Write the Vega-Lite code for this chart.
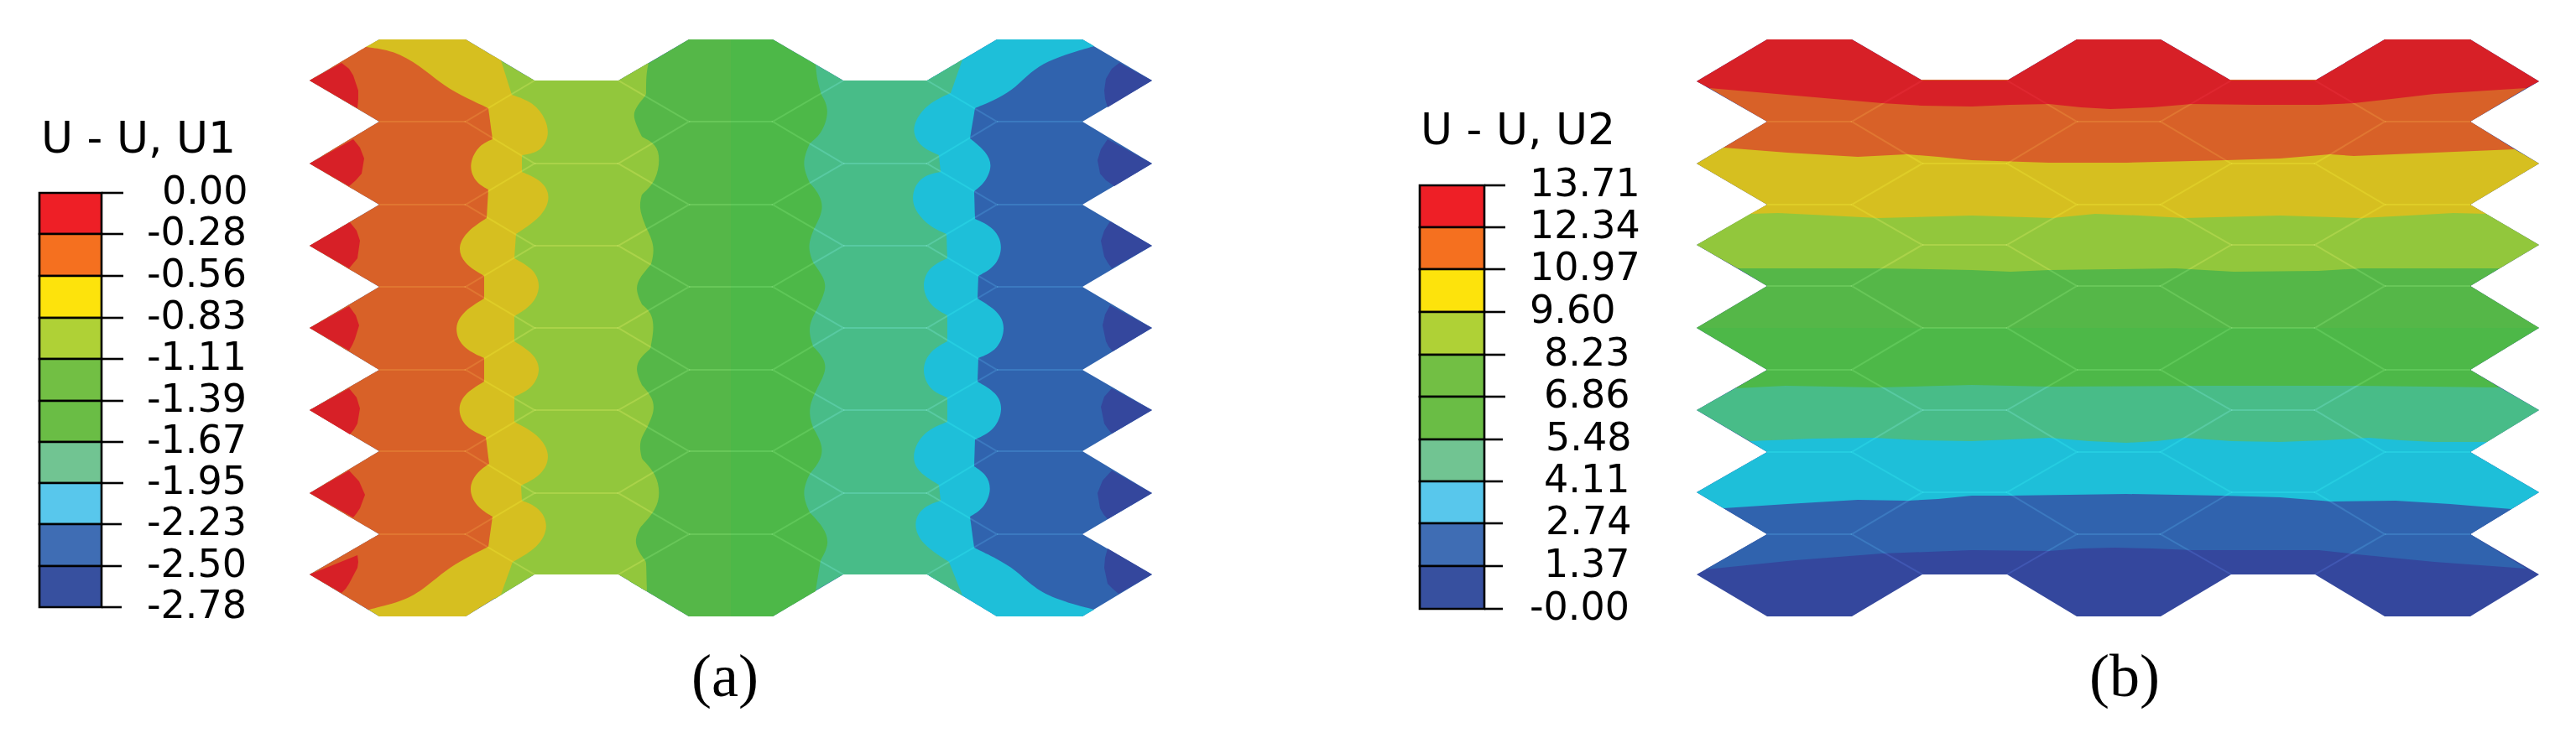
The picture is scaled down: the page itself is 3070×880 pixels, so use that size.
{"$schema":"https://vega.github.io/schema/vega-lite/v6.json","width":3070,"height":880,"autosize":{"type":"fit","contains":"padding"},"padding":0,"background":"white","config":{"view":{"stroke":null}},
"datasets":{
"outlines":[
{"id":"a0","b":9,"x":369,"y":96},{"id":"a0","b":9,"x":452,"y":47},{"id":"a0","b":9,"x":555,"y":47},{"id":"a0","b":9,"x":637,"y":96},{"id":"a0","b":9,"x":737,"y":96},{"id":"a0","b":9,"x":821,"y":47},{"id":"a0","b":9,"x":921,"y":47},{"id":"a0","b":9,"x":1005,"y":96},{"id":"a0","b":9,"x":1105,"y":96},{"id":"a0","b":9,"x":1188,"y":47},{"id":"a0","b":9,"x":1290,"y":47},{"id":"a0","b":9,"x":1373,"y":96},{"id":"a0","b":9,"x":1290,"y":145},{"id":"a0","b":9,"x":1373,"y":195},{"id":"a0","b":9,"x":1290,"y":244},{"id":"a0","b":9,"x":1373,"y":293},{"id":"a0","b":9,"x":1290,"y":342},{"id":"a0","b":9,"x":1373,"y":391},{"id":"a0","b":9,"x":1290,"y":441},{"id":"a0","b":9,"x":1373,"y":489},{"id":"a0","b":9,"x":1290,"y":538},{"id":"a0","b":9,"x":1373,"y":588},{"id":"a0","b":9,"x":1290,"y":637},{"id":"a0","b":9,"x":1373,"y":685},{"id":"a0","b":9,"x":1290,"y":735},{"id":"a0","b":9,"x":1188,"y":735},{"id":"a0","b":9,"x":1105,"y":685},{"id":"a0","b":9,"x":1005,"y":685},{"id":"a0","b":9,"x":921,"y":735},{"id":"a0","b":9,"x":821,"y":735},{"id":"a0","b":9,"x":737,"y":685},{"id":"a0","b":9,"x":637,"y":685},{"id":"a0","b":9,"x":555,"y":735},{"id":"a0","b":9,"x":452,"y":735},{"id":"a0","b":9,"x":369,"y":685},{"id":"a0","b":9,"x":452,"y":637},{"id":"a0","b":9,"x":369,"y":588},{"id":"a0","b":9,"x":452,"y":538},{"id":"a0","b":9,"x":369,"y":489},{"id":"a0","b":9,"x":452,"y":441},{"id":"a0","b":9,"x":369,"y":391},{"id":"a0","b":9,"x":452,"y":342},{"id":"a0","b":9,"x":369,"y":293},{"id":"a0","b":9,"x":452,"y":244},{"id":"a0","b":9,"x":369,"y":195},{"id":"a0","b":9,"x":452,"y":145},
{"id":"ad1","b":10,"x":1373,"y":96},{"id":"ad1","b":10,"x":1334,"y":75},{"id":"ad1","b":10,"x":1325,"y":82},{"id":"ad1","b":10,"x":1318,"y":94},{"id":"ad1","b":10,"x":1316,"y":108},{"id":"ad1","b":10,"x":1317,"y":118},{"id":"ad1","b":10,"x":1320,"y":128},
{"id":"ad2","b":10,"x":1373,"y":195},{"id":"ad2","b":10,"x":1320,"y":166},{"id":"ad2","b":10,"x":1312,"y":178},{"id":"ad2","b":10,"x":1308,"y":191},{"id":"ad2","b":10,"x":1311,"y":207},{"id":"ad2","b":10,"x":1318,"y":215},{"id":"ad2","b":10,"x":1328,"y":222},
{"id":"ad3","b":10,"x":1373,"y":293},{"id":"ad3","b":10,"x":1323,"y":264},{"id":"ad3","b":10,"x":1316,"y":275},{"id":"ad3","b":10,"x":1312,"y":287},{"id":"ad3","b":10,"x":1316,"y":306},{"id":"ad3","b":10,"x":1320,"y":313},{"id":"ad3","b":10,"x":1325,"y":320},
{"id":"ad4","b":10,"x":1373,"y":391},{"id":"ad4","b":10,"x":1323,"y":364},{"id":"ad4","b":10,"x":1317,"y":375},{"id":"ad4","b":10,"x":1314,"y":388},{"id":"ad4","b":10,"x":1318,"y":407},{"id":"ad4","b":10,"x":1321,"y":413},{"id":"ad4","b":10,"x":1326,"y":419},
{"id":"ad5","b":10,"x":1373,"y":489},{"id":"ad5","b":10,"x":1325,"y":463},{"id":"ad5","b":10,"x":1316,"y":473},{"id":"ad5","b":10,"x":1312,"y":485},{"id":"ad5","b":10,"x":1316,"y":505},{"id":"ad5","b":10,"x":1320,"y":511},{"id":"ad5","b":10,"x":1325,"y":517},
{"id":"ad6","b":10,"x":1373,"y":588},{"id":"ad6","b":10,"x":1325,"y":561},{"id":"ad6","b":10,"x":1314,"y":573},{"id":"ad6","b":10,"x":1308,"y":588},{"id":"ad6","b":10,"x":1311,"y":606},{"id":"ad6","b":10,"x":1315,"y":613},{"id":"ad6","b":10,"x":1320,"y":619},
{"id":"ad7","b":10,"x":1373,"y":685},{"id":"ad7","b":10,"x":1320,"y":654},{"id":"ad7","b":10,"x":1317,"y":665},{"id":"ad7","b":10,"x":1316,"y":677},{"id":"ad7","b":10,"x":1320,"y":696},{"id":"ad7","b":10,"x":1326,"y":702},{"id":"ad7","b":10,"x":1333,"y":708}
],
"contours":[
{"id":"a8","b":8,"x":1085,"y":96},{"id":"a8","b":8,"x":1085,"y":96},{"id":"a8","b":8,"x":1085,"y":96},{"id":"a8","b":8,"x":1105,"y":96},{"id":"a8","b":8,"x":1105,"y":96},{"id":"a8","b":8,"x":1105,"y":96},{"id":"a8","b":8,"x":1188,"y":47},{"id":"a8","b":8,"x":1188,"y":47},{"id":"a8","b":8,"x":1188,"y":47},{"id":"a8","b":8,"x":1290,"y":47},{"id":"a8","b":8,"x":1290,"y":47},{"id":"a8","b":8,"x":1290,"y":47},{"id":"a8","b":8,"x":1304,"y":55},{"id":"a8","b":8,"x":1304,"y":55},{"id":"a8","b":8,"x":1304,"y":55},{"id":"a8","b":8,"x":1269,"y":65},{"id":"a8","b":8,"x":1242,"y":76},{"id":"a8","b":8,"x":1224,"y":90},{"id":"a8","b":8,"x":1206,"y":108},{"id":"a8","b":8,"x":1184,"y":120},{"id":"a8","b":8,"x":1162,"y":129},{"id":"a8","b":8,"x":1162,"y":129},{"id":"a8","b":8,"x":1162,"y":129},{"id":"a8","b":8,"x":1156,"y":165},{"id":"a8","b":8,"x":1156,"y":165},{"id":"a8","b":8,"x":1156,"y":165},{"id":"a8","b":8,"x":1176,"y":181},{"id":"a8","b":8,"x":1183,"y":198},{"id":"a8","b":8,"x":1174,"y":218},{"id":"a8","b":8,"x":1161,"y":228},{"id":"a8","b":8,"x":1161,"y":228},{"id":"a8","b":8,"x":1161,"y":228},{"id":"a8","b":8,"x":1162,"y":261},{"id":"a8","b":8,"x":1162,"y":261},{"id":"a8","b":8,"x":1162,"y":261},{"id":"a8","b":8,"x":1186,"y":272},{"id":"a8","b":8,"x":1196,"y":294},{"id":"a8","b":8,"x":1187,"y":318},{"id":"a8","b":8,"x":1166,"y":329},{"id":"a8","b":8,"x":1166,"y":329},{"id":"a8","b":8,"x":1166,"y":329},{"id":"a8","b":8,"x":1165,"y":356},{"id":"a8","b":8,"x":1165,"y":356},{"id":"a8","b":8,"x":1165,"y":356},{"id":"a8","b":8,"x":1190,"y":371},{"id":"a8","b":8,"x":1199,"y":390},{"id":"a8","b":8,"x":1190,"y":417},{"id":"a8","b":8,"x":1166,"y":427},{"id":"a8","b":8,"x":1166,"y":427},{"id":"a8","b":8,"x":1166,"y":427},{"id":"a8","b":8,"x":1165,"y":455},{"id":"a8","b":8,"x":1165,"y":455},{"id":"a8","b":8,"x":1165,"y":455},{"id":"a8","b":8,"x":1188,"y":468},{"id":"a8","b":8,"x":1196,"y":487},{"id":"a8","b":8,"x":1186,"y":513},{"id":"a8","b":8,"x":1162,"y":524},{"id":"a8","b":8,"x":1162,"y":524},{"id":"a8","b":8,"x":1162,"y":524},{"id":"a8","b":8,"x":1161,"y":556},{"id":"a8","b":8,"x":1161,"y":556},{"id":"a8","b":8,"x":1161,"y":556},{"id":"a8","b":8,"x":1176,"y":566},{"id":"a8","b":8,"x":1182,"y":583},{"id":"a8","b":8,"x":1174,"y":605},{"id":"a8","b":8,"x":1156,"y":616},{"id":"a8","b":8,"x":1156,"y":616},{"id":"a8","b":8,"x":1156,"y":616},{"id":"a8","b":8,"x":1161,"y":653},{"id":"a8","b":8,"x":1161,"y":653},{"id":"a8","b":8,"x":1161,"y":653},{"id":"a8","b":8,"x":1188,"y":666},{"id":"a8","b":8,"x":1211,"y":680},{"id":"a8","b":8,"x":1229,"y":698},{"id":"a8","b":8,"x":1255,"y":714},{"id":"a8","b":8,"x":1304,"y":727},{"id":"a8","b":8,"x":1304,"y":727},{"id":"a8","b":8,"x":1304,"y":727},{"id":"a8","b":8,"x":1290,"y":735},{"id":"a8","b":8,"x":1290,"y":735},{"id":"a8","b":8,"x":1290,"y":735},{"id":"a8","b":8,"x":1188,"y":735},{"id":"a8","b":8,"x":1188,"y":735},{"id":"a8","b":8,"x":1188,"y":735},{"id":"a8","b":8,"x":1105,"y":685},{"id":"a8","b":8,"x":1105,"y":685},{"id":"a8","b":8,"x":1105,"y":685},{"id":"a8","b":8,"x":1085,"y":685},{"id":"a8","b":8,"x":1085,"y":685},{"id":"a8","b":8,"x":1085,"y":685},
{"id":"a7","b":7,"x":950,"y":64},{"id":"a7","b":7,"x":950,"y":64},{"id":"a7","b":7,"x":950,"y":64},{"id":"a7","b":7,"x":1005,"y":96},{"id":"a7","b":7,"x":1005,"y":96},{"id":"a7","b":7,"x":1005,"y":96},{"id":"a7","b":7,"x":1105,"y":96},{"id":"a7","b":7,"x":1105,"y":96},{"id":"a7","b":7,"x":1105,"y":96},{"id":"a7","b":7,"x":1147,"y":71},{"id":"a7","b":7,"x":1147,"y":71},{"id":"a7","b":7,"x":1147,"y":71},{"id":"a7","b":7,"x":1133,"y":111},{"id":"a7","b":7,"x":1133,"y":111},{"id":"a7","b":7,"x":1133,"y":111},{"id":"a7","b":7,"x":1106,"y":123},{"id":"a7","b":7,"x":1090,"y":144},{"id":"a7","b":7,"x":1088,"y":160},{"id":"a7","b":7,"x":1098,"y":176},{"id":"a7","b":7,"x":1119,"y":185},{"id":"a7","b":7,"x":1119,"y":185},{"id":"a7","b":7,"x":1119,"y":185},{"id":"a7","b":7,"x":1121,"y":205},{"id":"a7","b":7,"x":1121,"y":205},{"id":"a7","b":7,"x":1121,"y":205},{"id":"a7","b":7,"x":1098,"y":210},{"id":"a7","b":7,"x":1087,"y":228},{"id":"a7","b":7,"x":1088,"y":249},{"id":"a7","b":7,"x":1107,"y":270},{"id":"a7","b":7,"x":1128,"y":279},{"id":"a7","b":7,"x":1128,"y":279},{"id":"a7","b":7,"x":1128,"y":279},{"id":"a7","b":7,"x":1129,"y":308},{"id":"a7","b":7,"x":1129,"y":308},{"id":"a7","b":7,"x":1129,"y":308},{"id":"a7","b":7,"x":1107,"y":318},{"id":"a7","b":7,"x":1098,"y":340},{"id":"a7","b":7,"x":1107,"y":364},{"id":"a7","b":7,"x":1129,"y":376},{"id":"a7","b":7,"x":1129,"y":376},{"id":"a7","b":7,"x":1129,"y":376},{"id":"a7","b":7,"x":1129,"y":407},{"id":"a7","b":7,"x":1129,"y":407},{"id":"a7","b":7,"x":1129,"y":407},{"id":"a7","b":7,"x":1107,"y":419},{"id":"a7","b":7,"x":1098,"y":441},{"id":"a7","b":7,"x":1107,"y":465},{"id":"a7","b":7,"x":1129,"y":474},{"id":"a7","b":7,"x":1129,"y":474},{"id":"a7","b":7,"x":1129,"y":474},{"id":"a7","b":7,"x":1129,"y":503},{"id":"a7","b":7,"x":1129,"y":503},{"id":"a7","b":7,"x":1129,"y":503},{"id":"a7","b":7,"x":1103,"y":513},{"id":"a7","b":7,"x":1087,"y":537},{"id":"a7","b":7,"x":1090,"y":561},{"id":"a7","b":7,"x":1119,"y":578},{"id":"a7","b":7,"x":1119,"y":578},{"id":"a7","b":7,"x":1119,"y":578},{"id":"a7","b":7,"x":1121,"y":597},{"id":"a7","b":7,"x":1121,"y":597},{"id":"a7","b":7,"x":1121,"y":597},{"id":"a7","b":7,"x":1098,"y":605},{"id":"a7","b":7,"x":1088,"y":625},{"id":"a7","b":7,"x":1098,"y":649},{"id":"a7","b":7,"x":1131,"y":670},{"id":"a7","b":7,"x":1131,"y":670},{"id":"a7","b":7,"x":1131,"y":670},{"id":"a7","b":7,"x":1147,"y":710},{"id":"a7","b":7,"x":1147,"y":710},{"id":"a7","b":7,"x":1147,"y":710},{"id":"a7","b":7,"x":1105,"y":685},{"id":"a7","b":7,"x":1105,"y":685},{"id":"a7","b":7,"x":1105,"y":685},{"id":"a7","b":7,"x":1005,"y":685},{"id":"a7","b":7,"x":1005,"y":685},{"id":"a7","b":7,"x":1005,"y":685},{"id":"a7","b":7,"x":950,"y":717},{"id":"a7","b":7,"x":950,"y":717},{"id":"a7","b":7,"x":950,"y":717},
{"id":"a6","b":6,"x":860,"y":47},{"id":"a6","b":6,"x":860,"y":47},{"id":"a6","b":6,"x":860,"y":47},{"id":"a6","b":6,"x":921,"y":47},{"id":"a6","b":6,"x":921,"y":47},{"id":"a6","b":6,"x":921,"y":47},{"id":"a6","b":6,"x":972,"y":77},{"id":"a6","b":6,"x":972,"y":77},{"id":"a6","b":6,"x":972,"y":77},{"id":"a6","b":6,"x":974,"y":97},{"id":"a6","b":6,"x":979,"y":113},{"id":"a6","b":6,"x":979,"y":113},{"id":"a6","b":6,"x":989,"y":131},{"id":"a6","b":6,"x":980,"y":159},{"id":"a6","b":6,"x":965,"y":171},{"id":"a6","b":6,"x":965,"y":171},{"id":"a6","b":6,"x":955,"y":195},{"id":"a6","b":6,"x":965,"y":218},{"id":"a6","b":6,"x":965,"y":218},{"id":"a6","b":6,"x":977,"y":232},{"id":"a6","b":6,"x":982,"y":250},{"id":"a6","b":6,"x":970,"y":273},{"id":"a6","b":6,"x":970,"y":273},{"id":"a6","b":6,"x":962,"y":294},{"id":"a6","b":6,"x":969,"y":313},{"id":"a6","b":6,"x":969,"y":313},{"id":"a6","b":6,"x":982,"y":331},{"id":"a6","b":6,"x":985,"y":345},{"id":"a6","b":6,"x":974,"y":368},{"id":"a6","b":6,"x":974,"y":368},{"id":"a6","b":6,"x":962,"y":390},{"id":"a6","b":6,"x":969,"y":413},{"id":"a6","b":6,"x":969,"y":413},{"id":"a6","b":6,"x":982,"y":427},{"id":"a6","b":6,"x":985,"y":441},{"id":"a6","b":6,"x":976,"y":459},{"id":"a6","b":6,"x":976,"y":459},{"id":"a6","b":6,"x":962,"y":487},{"id":"a6","b":6,"x":969,"y":510},{"id":"a6","b":6,"x":969,"y":510},{"id":"a6","b":6,"x":982,"y":533},{"id":"a6","b":6,"x":977,"y":551},{"id":"a6","b":6,"x":965,"y":565},{"id":"a6","b":6,"x":965,"y":565},{"id":"a6","b":6,"x":955,"y":588},{"id":"a6","b":6,"x":965,"y":611},{"id":"a6","b":6,"x":965,"y":611},{"id":"a6","b":6,"x":982,"y":629},{"id":"a6","b":6,"x":989,"y":648},{"id":"a6","b":6,"x":978,"y":668},{"id":"a6","b":6,"x":978,"y":668},{"id":"a6","b":6,"x":972,"y":705},{"id":"a6","b":6,"x":972,"y":705},{"id":"a6","b":6,"x":972,"y":705},{"id":"a6","b":6,"x":921,"y":735},{"id":"a6","b":6,"x":921,"y":735},{"id":"a6","b":6,"x":921,"y":735},{"id":"a6","b":6,"x":860,"y":735},{"id":"a6","b":6,"x":860,"y":735},{"id":"a6","b":6,"x":860,"y":735},
{"id":"a5","b":5,"x":750,"y":89},{"id":"a5","b":5,"x":750,"y":89},{"id":"a5","b":5,"x":750,"y":89},{"id":"a5","b":5,"x":821,"y":47},{"id":"a5","b":5,"x":821,"y":47},{"id":"a5","b":5,"x":821,"y":47},{"id":"a5","b":5,"x":871,"y":47},{"id":"a5","b":5,"x":871,"y":47},{"id":"a5","b":5,"x":871,"y":47},{"id":"a5","b":5,"x":871,"y":735},{"id":"a5","b":5,"x":871,"y":735},{"id":"a5","b":5,"x":871,"y":735},{"id":"a5","b":5,"x":821,"y":735},{"id":"a5","b":5,"x":821,"y":735},{"id":"a5","b":5,"x":821,"y":735},{"id":"a5","b":5,"x":750,"y":693},{"id":"a5","b":5,"x":750,"y":693},{"id":"a5","b":5,"x":750,"y":693},
{"id":"a4","b":4,"x":590,"y":68},{"id":"a4","b":4,"x":590,"y":68},{"id":"a4","b":4,"x":590,"y":68},{"id":"a4","b":4,"x":637,"y":96},{"id":"a4","b":4,"x":637,"y":96},{"id":"a4","b":4,"x":637,"y":96},{"id":"a4","b":4,"x":737,"y":96},{"id":"a4","b":4,"x":737,"y":96},{"id":"a4","b":4,"x":737,"y":96},{"id":"a4","b":4,"x":773,"y":75},{"id":"a4","b":4,"x":773,"y":75},{"id":"a4","b":4,"x":773,"y":75},{"id":"a4","b":4,"x":770,"y":88},{"id":"a4","b":4,"x":770,"y":113},{"id":"a4","b":4,"x":770,"y":113},{"id":"a4","b":4,"x":757,"y":129},{"id":"a4","b":4,"x":754,"y":140},{"id":"a4","b":4,"x":765,"y":163},{"id":"a4","b":4,"x":765,"y":163},{"id":"a4","b":4,"x":782,"y":172},{"id":"a4","b":4,"x":787,"y":189},{"id":"a4","b":4,"x":782,"y":216},{"id":"a4","b":4,"x":765,"y":232},{"id":"a4","b":4,"x":765,"y":232},{"id":"a4","b":4,"x":761,"y":248},{"id":"a4","b":4,"x":770,"y":271},{"id":"a4","b":4,"x":770,"y":271},{"id":"a4","b":4,"x":781,"y":294},{"id":"a4","b":4,"x":776,"y":315},{"id":"a4","b":4,"x":776,"y":315},{"id":"a4","b":4,"x":762,"y":331},{"id":"a4","b":4,"x":757,"y":345},{"id":"a4","b":4,"x":765,"y":363},{"id":"a4","b":4,"x":765,"y":363},{"id":"a4","b":4,"x":776,"y":372},{"id":"a4","b":4,"x":780,"y":390},{"id":"a4","b":4,"x":775,"y":416},{"id":"a4","b":4,"x":775,"y":416},{"id":"a4","b":4,"x":762,"y":427},{"id":"a4","b":4,"x":757,"y":441},{"id":"a4","b":4,"x":765,"y":459},{"id":"a4","b":4,"x":765,"y":459},{"id":"a4","b":4,"x":777,"y":473},{"id":"a4","b":4,"x":781,"y":489},{"id":"a4","b":4,"x":770,"y":512},{"id":"a4","b":4,"x":770,"y":512},{"id":"a4","b":4,"x":761,"y":528},{"id":"a4","b":4,"x":765,"y":547},{"id":"a4","b":4,"x":765,"y":547},{"id":"a4","b":4,"x":782,"y":565},{"id":"a4","b":4,"x":787,"y":588},{"id":"a4","b":4,"x":782,"y":608},{"id":"a4","b":4,"x":763,"y":629},{"id":"a4","b":4,"x":763,"y":629},{"id":"a4","b":4,"x":754,"y":648},{"id":"a4","b":4,"x":770,"y":670},{"id":"a4","b":4,"x":770,"y":670},{"id":"a4","b":4,"x":771,"y":705},{"id":"a4","b":4,"x":771,"y":705},{"id":"a4","b":4,"x":771,"y":705},{"id":"a4","b":4,"x":737,"y":685},{"id":"a4","b":4,"x":737,"y":685},{"id":"a4","b":4,"x":737,"y":685},{"id":"a4","b":4,"x":637,"y":685},{"id":"a4","b":4,"x":637,"y":685},{"id":"a4","b":4,"x":637,"y":685},{"id":"a4","b":4,"x":590,"y":714},{"id":"a4","b":4,"x":590,"y":714},{"id":"a4","b":4,"x":590,"y":714},
{"id":"a3","b":3,"x":436,"y":56},{"id":"a3","b":3,"x":436,"y":56},{"id":"a3","b":3,"x":436,"y":56},{"id":"a3","b":3,"x":452,"y":47},{"id":"a3","b":3,"x":452,"y":47},{"id":"a3","b":3,"x":452,"y":47},{"id":"a3","b":3,"x":555,"y":47},{"id":"a3","b":3,"x":555,"y":47},{"id":"a3","b":3,"x":555,"y":47},{"id":"a3","b":3,"x":597,"y":72},{"id":"a3","b":3,"x":597,"y":72},{"id":"a3","b":3,"x":597,"y":72},{"id":"a3","b":3,"x":610,"y":113},{"id":"a3","b":3,"x":610,"y":113},{"id":"a3","b":3,"x":610,"y":113},{"id":"a3","b":3,"x":636,"y":122},{"id":"a3","b":3,"x":651,"y":142},{"id":"a3","b":3,"x":655,"y":163},{"id":"a3","b":3,"x":643,"y":182},{"id":"a3","b":3,"x":622,"y":185},{"id":"a3","b":3,"x":622,"y":185},{"id":"a3","b":3,"x":622,"y":185},{"id":"a3","b":3,"x":622,"y":205},{"id":"a3","b":3,"x":622,"y":205},{"id":"a3","b":3,"x":622,"y":205},{"id":"a3","b":3,"x":646,"y":215},{"id":"a3","b":3,"x":657,"y":234},{"id":"a3","b":3,"x":647,"y":258},{"id":"a3","b":3,"x":615,"y":279},{"id":"a3","b":3,"x":615,"y":279},{"id":"a3","b":3,"x":615,"y":279},{"id":"a3","b":3,"x":613,"y":308},{"id":"a3","b":3,"x":613,"y":308},{"id":"a3","b":3,"x":613,"y":308},{"id":"a3","b":3,"x":637,"y":321},{"id":"a3","b":3,"x":645,"y":342},{"id":"a3","b":3,"x":635,"y":364},{"id":"a3","b":3,"x":613,"y":377},{"id":"a3","b":3,"x":613,"y":377},{"id":"a3","b":3,"x":613,"y":377},{"id":"a3","b":3,"x":613,"y":407},{"id":"a3","b":3,"x":613,"y":407},{"id":"a3","b":3,"x":613,"y":407},{"id":"a3","b":3,"x":637,"y":422},{"id":"a3","b":3,"x":645,"y":441},{"id":"a3","b":3,"x":635,"y":463},{"id":"a3","b":3,"x":613,"y":473},{"id":"a3","b":3,"x":613,"y":473},{"id":"a3","b":3,"x":613,"y":473},{"id":"a3","b":3,"x":613,"y":503},{"id":"a3","b":3,"x":613,"y":503},{"id":"a3","b":3,"x":613,"y":503},{"id":"a3","b":3,"x":642,"y":518},{"id":"a3","b":3,"x":657,"y":542},{"id":"a3","b":3,"x":647,"y":566},{"id":"a3","b":3,"x":621,"y":579},{"id":"a3","b":3,"x":621,"y":579},{"id":"a3","b":3,"x":621,"y":579},{"id":"a3","b":3,"x":622,"y":597},{"id":"a3","b":3,"x":622,"y":597},{"id":"a3","b":3,"x":622,"y":597},{"id":"a3","b":3,"x":643,"y":605},{"id":"a3","b":3,"x":655,"y":627},{"id":"a3","b":3,"x":642,"y":653},{"id":"a3","b":3,"x":611,"y":670},{"id":"a3","b":3,"x":611,"y":670},{"id":"a3","b":3,"x":611,"y":670},{"id":"a3","b":3,"x":597,"y":709},{"id":"a3","b":3,"x":597,"y":709},{"id":"a3","b":3,"x":597,"y":709},{"id":"a3","b":3,"x":555,"y":735},{"id":"a3","b":3,"x":555,"y":735},{"id":"a3","b":3,"x":555,"y":735},{"id":"a3","b":3,"x":452,"y":735},{"id":"a3","b":3,"x":452,"y":735},{"id":"a3","b":3,"x":452,"y":735},{"id":"a3","b":3,"x":439,"y":727},{"id":"a3","b":3,"x":439,"y":727},{"id":"a3","b":3,"x":439,"y":727},{"id":"a3","b":3,"x":470,"y":700},{"id":"a3","b":3,"x":470,"y":700},{"id":"a3","b":3,"x":470,"y":700},{"id":"a3","b":3,"x":470,"y":70},{"id":"a3","b":3,"x":470,"y":70},{"id":"a3","b":3,"x":470,"y":70},
{"id":"a2","b":2,"x":369,"y":96},{"id":"a2","b":2,"x":369,"y":96},{"id":"a2","b":2,"x":369,"y":96},{"id":"a2","b":2,"x":436,"y":56},{"id":"a2","b":2,"x":436,"y":56},{"id":"a2","b":2,"x":436,"y":56},{"id":"a2","b":2,"x":469,"y":60},{"id":"a2","b":2,"x":500,"y":78},{"id":"a2","b":2,"x":531,"y":104},{"id":"a2","b":2,"x":556,"y":117},{"id":"a2","b":2,"x":582,"y":129},{"id":"a2","b":2,"x":582,"y":129},{"id":"a2","b":2,"x":582,"y":129},{"id":"a2","b":2,"x":587,"y":166},{"id":"a2","b":2,"x":587,"y":166},{"id":"a2","b":2,"x":587,"y":166},{"id":"a2","b":2,"x":569,"y":174},{"id":"a2","b":2,"x":558,"y":198},{"id":"a2","b":2,"x":567,"y":218},{"id":"a2","b":2,"x":582,"y":226},{"id":"a2","b":2,"x":582,"y":226},{"id":"a2","b":2,"x":582,"y":226},{"id":"a2","b":2,"x":580,"y":260},{"id":"a2","b":2,"x":580,"y":260},{"id":"a2","b":2,"x":580,"y":260},{"id":"a2","b":2,"x":557,"y":275},{"id":"a2","b":2,"x":545,"y":294},{"id":"a2","b":2,"x":552,"y":314},{"id":"a2","b":2,"x":577,"y":329},{"id":"a2","b":2,"x":577,"y":329},{"id":"a2","b":2,"x":577,"y":329},{"id":"a2","b":2,"x":577,"y":356},{"id":"a2","b":2,"x":577,"y":356},{"id":"a2","b":2,"x":577,"y":356},{"id":"a2","b":2,"x":552,"y":371},{"id":"a2","b":2,"x":541,"y":390},{"id":"a2","b":2,"x":549,"y":414},{"id":"a2","b":2,"x":577,"y":427},{"id":"a2","b":2,"x":577,"y":427},{"id":"a2","b":2,"x":577,"y":427},{"id":"a2","b":2,"x":577,"y":455},{"id":"a2","b":2,"x":577,"y":455},{"id":"a2","b":2,"x":577,"y":455},{"id":"a2","b":2,"x":552,"y":470},{"id":"a2","b":2,"x":545,"y":489},{"id":"a2","b":2,"x":554,"y":510},{"id":"a2","b":2,"x":579,"y":521},{"id":"a2","b":2,"x":579,"y":521},{"id":"a2","b":2,"x":579,"y":521},{"id":"a2","b":2,"x":583,"y":553},{"id":"a2","b":2,"x":583,"y":553},{"id":"a2","b":2,"x":583,"y":553},{"id":"a2","b":2,"x":567,"y":564},{"id":"a2","b":2,"x":558,"y":583},{"id":"a2","b":2,"x":567,"y":604},{"id":"a2","b":2,"x":587,"y":616},{"id":"a2","b":2,"x":587,"y":616},{"id":"a2","b":2,"x":587,"y":616},{"id":"a2","b":2,"x":582,"y":652},{"id":"a2","b":2,"x":582,"y":652},{"id":"a2","b":2,"x":582,"y":652},{"id":"a2","b":2,"x":554,"y":666},{"id":"a2","b":2,"x":531,"y":680},{"id":"a2","b":2,"x":510,"y":698},{"id":"a2","b":2,"x":485,"y":716},{"id":"a2","b":2,"x":439,"y":727},{"id":"a2","b":2,"x":439,"y":727},{"id":"a2","b":2,"x":439,"y":727},{"id":"a2","b":2,"x":369,"y":685},{"id":"a2","b":2,"x":369,"y":685},{"id":"a2","b":2,"x":369,"y":685},{"id":"a2","b":2,"x":452,"y":637},{"id":"a2","b":2,"x":452,"y":637},{"id":"a2","b":2,"x":452,"y":637},{"id":"a2","b":2,"x":369,"y":588},{"id":"a2","b":2,"x":369,"y":588},{"id":"a2","b":2,"x":369,"y":588},{"id":"a2","b":2,"x":452,"y":538},{"id":"a2","b":2,"x":452,"y":538},{"id":"a2","b":2,"x":452,"y":538},{"id":"a2","b":2,"x":369,"y":489},{"id":"a2","b":2,"x":369,"y":489},{"id":"a2","b":2,"x":369,"y":489},{"id":"a2","b":2,"x":452,"y":441},{"id":"a2","b":2,"x":452,"y":441},{"id":"a2","b":2,"x":452,"y":441},{"id":"a2","b":2,"x":369,"y":391},{"id":"a2","b":2,"x":369,"y":391},{"id":"a2","b":2,"x":369,"y":391},{"id":"a2","b":2,"x":452,"y":342},{"id":"a2","b":2,"x":452,"y":342},{"id":"a2","b":2,"x":452,"y":342},{"id":"a2","b":2,"x":369,"y":293},{"id":"a2","b":2,"x":369,"y":293},{"id":"a2","b":2,"x":369,"y":293},{"id":"a2","b":2,"x":452,"y":244},{"id":"a2","b":2,"x":452,"y":244},{"id":"a2","b":2,"x":452,"y":244},{"id":"a2","b":2,"x":369,"y":195},{"id":"a2","b":2,"x":369,"y":195},{"id":"a2","b":2,"x":369,"y":195},{"id":"a2","b":2,"x":452,"y":145},{"id":"a2","b":2,"x":452,"y":145},{"id":"a2","b":2,"x":452,"y":145}
],
"tips":[
{"id":"ar1","b":1,"x":369,"y":96},{"id":"ar1","b":1,"x":407,"y":75},{"id":"ar1","b":1,"x":416,"y":82},{"id":"ar1","b":1,"x":421,"y":90},{"id":"ar1","b":1,"x":427,"y":108},{"id":"ar1","b":1,"x":427,"y":118},{"id":"ar1","b":1,"x":426,"y":129},
{"id":"ar2","b":1,"x":369,"y":195},{"id":"ar2","b":1,"x":421,"y":166},{"id":"ar2","b":1,"x":429,"y":176},{"id":"ar2","b":1,"x":434,"y":189},{"id":"ar2","b":1,"x":431,"y":207},{"id":"ar2","b":1,"x":424,"y":215},{"id":"ar2","b":1,"x":416,"y":222},
{"id":"ar3","b":1,"x":369,"y":293},{"id":"ar3","b":1,"x":417,"y":265},{"id":"ar3","b":1,"x":425,"y":275},{"id":"ar3","b":1,"x":429,"y":287},{"id":"ar3","b":1,"x":426,"y":308},{"id":"ar3","b":1,"x":421,"y":314},{"id":"ar3","b":1,"x":416,"y":320},
{"id":"ar4","b":1,"x":369,"y":391},{"id":"ar4","b":1,"x":416,"y":365},{"id":"ar4","b":1,"x":424,"y":376},{"id":"ar4","b":1,"x":428,"y":388},{"id":"ar4","b":1,"x":423,"y":404},{"id":"ar4","b":1,"x":420,"y":411},{"id":"ar4","b":1,"x":416,"y":418},
{"id":"ar5","b":1,"x":369,"y":489},{"id":"ar5","b":1,"x":416,"y":463},{"id":"ar5","b":1,"x":425,"y":474},{"id":"ar5","b":1,"x":429,"y":487},{"id":"ar5","b":1,"x":426,"y":505},{"id":"ar5","b":1,"x":422,"y":512},{"id":"ar5","b":1,"x":417,"y":518},
{"id":"ar6","b":1,"x":369,"y":588},{"id":"ar6","b":1,"x":416,"y":561},{"id":"ar6","b":1,"x":428,"y":574},{"id":"ar6","b":1,"x":435,"y":590},{"id":"ar6","b":1,"x":429,"y":606},{"id":"ar6","b":1,"x":425,"y":612},{"id":"ar6","b":1,"x":421,"y":617},
{"id":"ar7","b":1,"x":369,"y":685},{"id":"ar7","b":1,"x":426,"y":662},{"id":"ar7","b":1,"x":427,"y":670},{"id":"ar7","b":1,"x":426,"y":677},{"id":"ar7","b":1,"x":416,"y":696},{"id":"ar7","b":1,"x":412,"y":702},{"id":"ar7","b":1,"x":407,"y":707},
{"id":"b10","b":10,"x":2022,"y":97},{"id":"b10","b":10,"x":2106,"y":47},{"id":"b10","b":10,"x":2207,"y":47},{"id":"b10","b":10,"x":2291,"y":96},{"id":"b10","b":10,"x":2392,"y":96},{"id":"b10","b":10,"x":2475,"y":47},{"id":"b10","b":10,"x":2575,"y":47},{"id":"b10","b":10,"x":2659,"y":96},{"id":"b10","b":10,"x":2759,"y":96},{"id":"b10","b":10,"x":2842,"y":47},{"id":"b10","b":10,"x":2944,"y":47},{"id":"b10","b":10,"x":3026,"y":97},{"id":"b10","b":10,"x":2944,"y":145},{"id":"b10","b":10,"x":3026,"y":195},{"id":"b10","b":10,"x":2944,"y":244},{"id":"b10","b":10,"x":3026,"y":292},{"id":"b10","b":10,"x":2944,"y":341},{"id":"b10","b":10,"x":3026,"y":391},{"id":"b10","b":10,"x":2944,"y":441},{"id":"b10","b":10,"x":3026,"y":489},{"id":"b10","b":10,"x":2944,"y":539},{"id":"b10","b":10,"x":3026,"y":587},{"id":"b10","b":10,"x":2944,"y":637},{"id":"b10","b":10,"x":3026,"y":685},{"id":"b10","b":10,"x":2944,"y":735},{"id":"b10","b":10,"x":2842,"y":735},{"id":"b10","b":10,"x":2759,"y":685},{"id":"b10","b":10,"x":2659,"y":685},{"id":"b10","b":10,"x":2575,"y":735},{"id":"b10","b":10,"x":2475,"y":735},{"id":"b10","b":10,"x":2392,"y":685},{"id":"b10","b":10,"x":2291,"y":685},{"id":"b10","b":10,"x":2207,"y":735},{"id":"b10","b":10,"x":2106,"y":735},{"id":"b10","b":10,"x":2022,"y":685},{"id":"b10","b":10,"x":2106,"y":637},{"id":"b10","b":10,"x":2022,"y":587},{"id":"b10","b":10,"x":2106,"y":539},{"id":"b10","b":10,"x":2022,"y":489},{"id":"b10","b":10,"x":2106,"y":441},{"id":"b10","b":10,"x":2022,"y":391},{"id":"b10","b":10,"x":2106,"y":341},{"id":"b10","b":10,"x":2022,"y":292},{"id":"b10","b":10,"x":2106,"y":244},{"id":"b10","b":10,"x":2022,"y":195},{"id":"b10","b":10,"x":2106,"y":145},
{"id":"b9","b":9,"x":2033,"y":679},{"id":"b9","b":9,"x":2140,"y":668},{"id":"b9","b":9,"x":2243,"y":660},{"id":"b9","b":9,"x":2350,"y":656},{"id":"b9","b":9,"x":2442,"y":657},{"id":"b9","b":9,"x":2480,"y":654},{"id":"b9","b":9,"x":2520,"y":653},{"id":"b9","b":9,"x":2565,"y":654},{"id":"b9","b":9,"x":2612,"y":656},{"id":"b9","b":9,"x":2763,"y":656},{"id":"b9","b":9,"x":2809,"y":661},{"id":"b9","b":9,"x":2901,"y":670},{"id":"b9","b":9,"x":3011,"y":678},{"id":"b9","b":9,"x":2944,"y":637},{"id":"b9","b":9,"x":2993,"y":607},{"id":"b9","b":9,"x":2993,"y":585},{"id":"b9","b":9,"x":2054,"y":585},{"id":"b9","b":9,"x":2054,"y":606},{"id":"b9","b":9,"x":2106,"y":637},
{"id":"b8","b":8,"x":2054,"y":606},{"id":"b8","b":8,"x":2130,"y":601},{"id":"b8","b":8,"x":2214,"y":596},{"id":"b8","b":8,"x":2272,"y":597},{"id":"b8","b":8,"x":2310,"y":595},{"id":"b8","b":8,"x":2350,"y":591},{"id":"b8","b":8,"x":2396,"y":591},{"id":"b8","b":8,"x":2534,"y":589},{"id":"b8","b":8,"x":2648,"y":591},{"id":"b8","b":8,"x":2717,"y":593},{"id":"b8","b":8,"x":2779,"y":598},{"id":"b8","b":8,"x":2855,"y":597},{"id":"b8","b":8,"x":2920,"y":601},{"id":"b8","b":8,"x":2993,"y":607},{"id":"b8","b":8,"x":3026,"y":587},{"id":"b8","b":8,"x":2944,"y":539},{"id":"b8","b":8,"x":2964,"y":527},{"id":"b8","b":8,"x":2964,"y":515},{"id":"b8","b":8,"x":2085,"y":515},{"id":"b8","b":8,"x":2085,"y":526},{"id":"b8","b":8,"x":2106,"y":539},{"id":"b8","b":8,"x":2022,"y":587},
{"id":"b7","b":7,"x":2085,"y":526},{"id":"b7","b":7,"x":2160,"y":523},{"id":"b7","b":7,"x":2233,"y":522},{"id":"b7","b":7,"x":2290,"y":525},{"id":"b7","b":7,"x":2350,"y":526},{"id":"b7","b":7,"x":2395,"y":524},{"id":"b7","b":7,"x":2442,"y":522},{"id":"b7","b":7,"x":2490,"y":526},{"id":"b7","b":7,"x":2534,"y":528},{"id":"b7","b":7,"x":2570,"y":526},{"id":"b7","b":7,"x":2603,"y":522},{"id":"b7","b":7,"x":2660,"y":526},{"id":"b7","b":7,"x":2717,"y":527},{"id":"b7","b":7,"x":2770,"y":525},{"id":"b7","b":7,"x":2823,"y":522},{"id":"b7","b":7,"x":2862,"y":525},{"id":"b7","b":7,"x":2901,"y":527},{"id":"b7","b":7,"x":2964,"y":527},{"id":"b7","b":7,"x":3026,"y":489},{"id":"b7","b":7,"x":2979,"y":462},{"id":"b7","b":7,"x":2940,"y":452},{"id":"b7","b":7,"x":2110,"y":452},{"id":"b7","b":7,"x":2068,"y":463},{"id":"b7","b":7,"x":2022,"y":489},
{"id":"b6","b":6,"x":2068,"y":463},{"id":"b6","b":6,"x":2128,"y":460},{"id":"b6","b":6,"x":2238,"y":462},{"id":"b6","b":6,"x":2350,"y":459},{"id":"b6","b":6,"x":2442,"y":461},{"id":"b6","b":6,"x":2626,"y":460},{"id":"b6","b":6,"x":2809,"y":460},{"id":"b6","b":6,"x":2979,"y":462},{"id":"b6","b":6,"x":2944,"y":441},{"id":"b6","b":6,"x":3026,"y":391},{"id":"b6","b":6,"x":3010,"y":382},{"id":"b6","b":6,"x":2038,"y":382},{"id":"b6","b":6,"x":2022,"y":391},{"id":"b6","b":6,"x":2106,"y":441},
{"id":"b5","b":5,"x":2022,"y":391},{"id":"b5","b":5,"x":3026,"y":391},{"id":"b5","b":5,"x":2944,"y":341},{"id":"b5","b":5,"x":2979,"y":320},{"id":"b5","b":5,"x":2979,"y":310},{"id":"b5","b":5,"x":2071,"y":310},{"id":"b5","b":5,"x":2071,"y":320},{"id":"b5","b":5,"x":2106,"y":341},
{"id":"b4","b":4,"x":2071,"y":320},{"id":"b4","b":4,"x":2238,"y":320},{"id":"b4","b":4,"x":2300,"y":321},{"id":"b4","b":4,"x":2350,"y":322},{"id":"b4","b":4,"x":2396,"y":324},{"id":"b4","b":4,"x":2442,"y":322},{"id":"b4","b":4,"x":2520,"y":321},{"id":"b4","b":4,"x":2593,"y":320},{"id":"b4","b":4,"x":2662,"y":324},{"id":"b4","b":4,"x":2763,"y":323},{"id":"b4","b":4,"x":2814,"y":320},{"id":"b4","b":4,"x":2979,"y":320},{"id":"b4","b":4,"x":3026,"y":292},{"id":"b4","b":4,"x":2963,"y":255},{"id":"b4","b":4,"x":2940,"y":248},{"id":"b4","b":4,"x":2110,"y":248},{"id":"b4","b":4,"x":2086,"y":255},{"id":"b4","b":4,"x":2022,"y":292},
{"id":"b3","b":3,"x":2086,"y":255},{"id":"b3","b":3,"x":2119,"y":254},{"id":"b3","b":3,"x":2180,"y":257},{"id":"b3","b":3,"x":2238,"y":260},{"id":"b3","b":3,"x":2350,"y":257},{"id":"b3","b":3,"x":2446,"y":260},{"id":"b3","b":3,"x":2497,"y":255},{"id":"b3","b":3,"x":2550,"y":257},{"id":"b3","b":3,"x":2603,"y":260},{"id":"b3","b":3,"x":2717,"y":257},{"id":"b3","b":3,"x":2814,"y":260},{"id":"b3","b":3,"x":2870,"y":257},{"id":"b3","b":3,"x":2924,"y":254},{"id":"b3","b":3,"x":2963,"y":255},{"id":"b3","b":3,"x":2944,"y":244},{"id":"b3","b":3,"x":3026,"y":195},{"id":"b3","b":3,"x":2997,"y":178},{"id":"b3","b":3,"x":2940,"y":172},{"id":"b3","b":3,"x":2110,"y":172},{"id":"b3","b":3,"x":2054,"y":176},{"id":"b3","b":3,"x":2022,"y":195},{"id":"b3","b":3,"x":2106,"y":244},
{"id":"b2","b":2,"x":2054,"y":176},{"id":"b2","b":2,"x":2130,"y":182},{"id":"b2","b":2,"x":2214,"y":187},{"id":"b2","b":2,"x":2272,"y":184},{"id":"b2","b":2,"x":2310,"y":187},{"id":"b2","b":2,"x":2350,"y":191},{"id":"b2","b":2,"x":2442,"y":194},{"id":"b2","b":2,"x":2534,"y":194},{"id":"b2","b":2,"x":2653,"y":191},{"id":"b2","b":2,"x":2717,"y":189},{"id":"b2","b":2,"x":2777,"y":184},{"id":"b2","b":2,"x":2805,"y":186},{"id":"b2","b":2,"x":2901,"y":182},{"id":"b2","b":2,"x":2997,"y":178},{"id":"b2","b":2,"x":2944,"y":145},{"id":"b2","b":2,"x":3011,"y":105},{"id":"b2","b":2,"x":3011,"y":95},{"id":"b2","b":2,"x":2037,"y":95},{"id":"b2","b":2,"x":2037,"y":105},{"id":"b2","b":2,"x":2106,"y":145},
{"id":"b1","b":1,"x":2022,"y":97},{"id":"b1","b":1,"x":2106,"y":47},{"id":"b1","b":1,"x":2207,"y":47},{"id":"b1","b":1,"x":2291,"y":96},{"id":"b1","b":1,"x":2392,"y":96},{"id":"b1","b":1,"x":2475,"y":47},{"id":"b1","b":1,"x":2575,"y":47},{"id":"b1","b":1,"x":2659,"y":96},{"id":"b1","b":1,"x":2759,"y":96},{"id":"b1","b":1,"x":2842,"y":47},{"id":"b1","b":1,"x":2944,"y":47},{"id":"b1","b":1,"x":3026,"y":97},{"id":"b1","b":1,"x":3011,"y":105},{"id":"b1","b":1,"x":2901,"y":112},{"id":"b1","b":1,"x":2850,"y":118},{"id":"b1","b":1,"x":2805,"y":123},{"id":"b1","b":1,"x":2763,"y":125},{"id":"b1","b":1,"x":2690,"y":125},{"id":"b1","b":1,"x":2612,"y":124},{"id":"b1","b":1,"x":2565,"y":128},{"id":"b1","b":1,"x":2515,"y":130},{"id":"b1","b":1,"x":2480,"y":128},{"id":"b1","b":1,"x":2442,"y":124},{"id":"b1","b":1,"x":2395,"y":125},{"id":"b1","b":1,"x":2350,"y":127},{"id":"b1","b":1,"x":2291,"y":126},{"id":"b1","b":1,"x":2243,"y":123},{"id":"b1","b":1,"x":2140,"y":114},{"id":"b1","b":1,"x":2037,"y":105}
],
"zigzags":[
{"id":"g1","x":637,"y":96},{"id":"g1","x":555,"y":145},{"id":"g1","x":637,"y":195},{"id":"g1","x":555,"y":244},{"id":"g1","x":637,"y":293},{"id":"g1","x":555,"y":342},{"id":"g1","x":637,"y":391},{"id":"g1","x":555,"y":441},{"id":"g1","x":637,"y":489},{"id":"g1","x":555,"y":538},{"id":"g1","x":637,"y":588},{"id":"g1","x":555,"y":637},{"id":"g1","x":637,"y":685},
{"id":"g2","x":737,"y":96},{"id":"g2","x":821,"y":145},{"id":"g2","x":737,"y":195},{"id":"g2","x":821,"y":244},{"id":"g2","x":737,"y":293},{"id":"g2","x":821,"y":342},{"id":"g2","x":737,"y":391},{"id":"g2","x":821,"y":441},{"id":"g2","x":737,"y":489},{"id":"g2","x":821,"y":538},{"id":"g2","x":737,"y":588},{"id":"g2","x":821,"y":637},{"id":"g2","x":737,"y":685},
{"id":"g3","x":1005,"y":96},{"id":"g3","x":921,"y":145},{"id":"g3","x":1005,"y":195},{"id":"g3","x":921,"y":244},{"id":"g3","x":1005,"y":293},{"id":"g3","x":921,"y":342},{"id":"g3","x":1005,"y":391},{"id":"g3","x":921,"y":441},{"id":"g3","x":1005,"y":489},{"id":"g3","x":921,"y":538},{"id":"g3","x":1005,"y":588},{"id":"g3","x":921,"y":637},{"id":"g3","x":1005,"y":685},
{"id":"g4","x":1105,"y":96},{"id":"g4","x":1188,"y":145},{"id":"g4","x":1105,"y":195},{"id":"g4","x":1188,"y":244},{"id":"g4","x":1105,"y":293},{"id":"g4","x":1188,"y":342},{"id":"g4","x":1105,"y":391},{"id":"g4","x":1188,"y":441},{"id":"g4","x":1105,"y":489},{"id":"g4","x":1188,"y":538},{"id":"g4","x":1105,"y":588},{"id":"g4","x":1188,"y":637},{"id":"g4","x":1105,"y":685},
{"id":"g5","x":2291,"y":96},{"id":"g5","x":2207,"y":145},{"id":"g5","x":2291,"y":195},{"id":"g5","x":2207,"y":244},{"id":"g5","x":2291,"y":292},{"id":"g5","x":2207,"y":341},{"id":"g5","x":2291,"y":391},{"id":"g5","x":2207,"y":441},{"id":"g5","x":2291,"y":489},{"id":"g5","x":2207,"y":539},{"id":"g5","x":2291,"y":587},{"id":"g5","x":2207,"y":637},{"id":"g5","x":2291,"y":685},
{"id":"g6","x":2392,"y":96},{"id":"g6","x":2475,"y":145},{"id":"g6","x":2392,"y":195},{"id":"g6","x":2475,"y":244},{"id":"g6","x":2392,"y":292},{"id":"g6","x":2475,"y":341},{"id":"g6","x":2392,"y":391},{"id":"g6","x":2475,"y":441},{"id":"g6","x":2392,"y":489},{"id":"g6","x":2475,"y":539},{"id":"g6","x":2392,"y":587},{"id":"g6","x":2475,"y":637},{"id":"g6","x":2392,"y":685},
{"id":"g7","x":2659,"y":96},{"id":"g7","x":2575,"y":145},{"id":"g7","x":2659,"y":195},{"id":"g7","x":2575,"y":244},{"id":"g7","x":2659,"y":292},{"id":"g7","x":2575,"y":341},{"id":"g7","x":2659,"y":391},{"id":"g7","x":2575,"y":441},{"id":"g7","x":2659,"y":489},{"id":"g7","x":2575,"y":539},{"id":"g7","x":2659,"y":587},{"id":"g7","x":2575,"y":637},{"id":"g7","x":2659,"y":685},
{"id":"g8","x":2759,"y":96},{"id":"g8","x":2842,"y":145},{"id":"g8","x":2759,"y":195},{"id":"g8","x":2842,"y":244},{"id":"g8","x":2759,"y":292},{"id":"g8","x":2842,"y":341},{"id":"g8","x":2759,"y":391},{"id":"g8","x":2842,"y":441},{"id":"g8","x":2759,"y":489},{"id":"g8","x":2842,"y":539},{"id":"g8","x":2759,"y":587},{"id":"g8","x":2842,"y":637},{"id":"g8","x":2759,"y":685}
],
"flats":[
{"x":452,"x2":555,"y":145},{"x":452,"x2":555,"y":244},{"x":452,"x2":555,"y":342},{"x":452,"x2":555,"y":441},{"x":452,"x2":555,"y":538},{"x":452,"x2":555,"y":637},
{"x":637,"x2":737,"y":195},{"x":637,"x2":737,"y":293},{"x":637,"x2":737,"y":391},{"x":637,"x2":737,"y":489},{"x":637,"x2":737,"y":588},
{"x":821,"x2":921,"y":145},{"x":821,"x2":921,"y":244},{"x":821,"x2":921,"y":342},{"x":821,"x2":921,"y":441},{"x":821,"x2":921,"y":538},{"x":821,"x2":921,"y":637},
{"x":1005,"x2":1105,"y":195},{"x":1005,"x2":1105,"y":293},{"x":1005,"x2":1105,"y":391},{"x":1005,"x2":1105,"y":489},{"x":1005,"x2":1105,"y":588},
{"x":1188,"x2":1290,"y":145},{"x":1188,"x2":1290,"y":244},{"x":1188,"x2":1290,"y":342},{"x":1188,"x2":1290,"y":441},{"x":1188,"x2":1290,"y":538},{"x":1188,"x2":1290,"y":637},
{"x":2106,"x2":2207,"y":145},{"x":2106,"x2":2207,"y":244},{"x":2106,"x2":2207,"y":341},{"x":2106,"x2":2207,"y":441},{"x":2106,"x2":2207,"y":539},{"x":2106,"x2":2207,"y":637},
{"x":2291,"x2":2392,"y":195},{"x":2291,"x2":2392,"y":292},{"x":2291,"x2":2392,"y":391},{"x":2291,"x2":2392,"y":489},{"x":2291,"x2":2392,"y":587},
{"x":2475,"x2":2575,"y":145},{"x":2475,"x2":2575,"y":244},{"x":2475,"x2":2575,"y":341},{"x":2475,"x2":2575,"y":441},{"x":2475,"x2":2575,"y":539},{"x":2475,"x2":2575,"y":637},
{"x":2659,"x2":2759,"y":195},{"x":2659,"x2":2759,"y":292},{"x":2659,"x2":2759,"y":391},{"x":2659,"x2":2759,"y":489},{"x":2659,"x2":2759,"y":587},
{"x":2842,"x2":2944,"y":145},{"x":2842,"x2":2944,"y":244},{"x":2842,"x2":2944,"y":341},{"x":2842,"x2":2944,"y":441},{"x":2842,"x2":2944,"y":539},{"x":2842,"x2":2944,"y":637}
],
"swatches":[
{"b":1,"x":47,"x2":121,"y":230,"y2":279},{"b":2,"x":47,"x2":121,"y":279,"y2":329},{"b":3,"x":47,"x2":121,"y":329,"y2":379},{"b":4,"x":47,"x2":121,"y":379,"y2":428},{"b":5,"x":47,"x2":121,"y":428,"y2":478},{"b":6,"x":47,"x2":121,"y":478,"y2":527},{"b":7,"x":47,"x2":121,"y":527,"y2":576},{"b":8,"x":47,"x2":121,"y":576,"y2":625},{"b":9,"x":47,"x2":121,"y":625,"y2":675},{"b":10,"x":47,"x2":121,"y":675,"y2":724},
{"b":1,"x":1692,"x2":1769,"y":221,"y2":271},{"b":2,"x":1692,"x2":1769,"y":271,"y2":321},{"b":3,"x":1692,"x2":1769,"y":321,"y2":372},{"b":4,"x":1692,"x2":1769,"y":372,"y2":423},{"b":5,"x":1692,"x2":1769,"y":423,"y2":473},{"b":6,"x":1692,"x2":1769,"y":473,"y2":524},{"b":7,"x":1692,"x2":1769,"y":524,"y2":574},{"b":8,"x":1692,"x2":1769,"y":574,"y2":624},{"b":9,"x":1692,"x2":1769,"y":624,"y2":675},{"b":10,"x":1692,"x2":1769,"y":675,"y2":726}
],
"ticks":[
{"x":121,"x2":147,"y":230},{"x":121,"x2":147,"y":279},{"x":121,"x2":147,"y":329},{"x":121,"x2":147,"y":379},{"x":121,"x2":147,"y":428},{"x":121,"x2":147,"y":478},{"x":121,"x2":147,"y":527},{"x":121,"x2":147,"y":576},{"x":121,"x2":145,"y":625},{"x":121,"x2":145,"y":675},{"x":121,"x2":145,"y":724},
{"x":1769,"x2":1794,"y":221},{"x":1769,"x2":1794,"y":271},{"x":1769,"x2":1794,"y":321},{"x":1769,"x2":1794,"y":372},{"x":1769,"x2":1794,"y":423},{"x":1769,"x2":1794,"y":473},{"x":1769,"x2":1791,"y":524},{"x":1769,"x2":1791,"y":574},{"x":1769,"x2":1791,"y":624},{"x":1769,"x2":1791,"y":675},{"x":1769,"x2":1791,"y":726}
],
"labels":[
{"x":193,"y":230,"t":"0.00"},{"x":175,"y":279,"t":"-0.28"},{"x":175,"y":329,"t":"-0.56"},{"x":175,"y":379,"t":"-0.83"},{"x":175,"y":428,"t":"-1.11"},{"x":175,"y":478,"t":"-1.39"},{"x":175,"y":527,"t":"-1.67"},{"x":175,"y":576,"t":"-1.95"},{"x":175,"y":625,"t":"-2.23"},{"x":175,"y":675,"t":"-2.50"},{"x":175,"y":724,"t":"-2.78"},
{"x":1823,"y":221,"t":"13.71"},{"x":1823,"y":271,"t":"12.34"},{"x":1823,"y":321,"t":"10.97"},{"x":1823,"y":372,"t":"9.60"},{"x":1840,"y":423,"t":"8.23"},{"x":1840,"y":473,"t":"6.86"},{"x":1842,"y":524,"t":"5.48"},{"x":1840,"y":574,"t":"4.11"},{"x":1842,"y":624,"t":"2.74"},{"x":1840,"y":675,"t":"1.37"},{"x":1823,"y":726,"t":"-0.00"}
],
"titles":[{"x":49,"y":182,"t":"U - U, U1"},{"x":1693,"y":172,"t":"U - U, U2"}],
"captions":[{"x":864,"y":830,"t":"(a)"},{"x":2532,"y":830,"t":"(b)"}]
},
"layer":[
{"data":{"name":"outlines"},"mark":{"type":"line","strokeWidth":0,"stroke":null},"encoding":{
"x":{"field":"x","type":"quantitative","scale":{"domain":[0,3070],"nice":false,"zero":false},"axis":null},
"y":{"field":"y","type":"quantitative","scale":{"domain":[880,0],"nice":false,"zero":false},"axis":null},
"fill":{"field":"b","type":"ordinal","scale":{"domain":[1,2,3,4,5,6,7,8,9,10],"range":["#d72027","#d86128","#d6bf20","#92c73c","#55b748","#4db848","#48bc88","#1ebfd9","#3063ae","#34479d"]},"legend":null},
"detail":{"field":"id"},"order":{"value":null}}},
{"data":{"name":"contours"},"mark":{"type":"line","interpolate":"basis","strokeWidth":0,"stroke":null},"encoding":{
"x":{"field":"x","type":"quantitative"},"y":{"field":"y","type":"quantitative"},
"fill":{"field":"b","type":"ordinal","scale":{"domain":[1,2,3,4,5,6,7,8,9,10],"range":["#d72027","#d86128","#d6bf20","#92c73c","#55b748","#4db848","#48bc88","#1ebfd9","#3063ae","#34479d"]},"legend":null},
"detail":{"field":"id"},"order":{"value":null}}},
{"data":{"name":"tips"},"mark":{"type":"line","strokeWidth":0,"stroke":null},"encoding":{
"x":{"field":"x","type":"quantitative"},"y":{"field":"y","type":"quantitative"},
"fill":{"field":"b","type":"ordinal","scale":{"domain":[1,2,3,4,5,6,7,8,9,10],"range":["#d72027","#d86128","#d6bf20","#92c73c","#55b748","#4db848","#48bc88","#1ebfd9","#3063ae","#34479d"]},"legend":null},
"detail":{"field":"id"},"order":{"value":null}}},
{"data":{"name":"zigzags"},"mark":{"type":"line","stroke":"#ffffff","strokeWidth":2,"opacity":0.22,"blend":"overlay"},"encoding":{
"x":{"field":"x","type":"quantitative"},"y":{"field":"y","type":"quantitative"},"detail":{"field":"id"},"order":{"value":null}}},
{"data":{"name":"flats"},"mark":{"type":"rule","stroke":"#ffffff","strokeWidth":2,"opacity":0.22,"blend":"overlay"},"encoding":{
"x":{"field":"x","type":"quantitative"},"x2":{"field":"x2"},"y":{"field":"y","type":"quantitative"}}},
{"data":{"name":"swatches"},"mark":{"type":"rect","stroke":"#000000","strokeWidth":2.6},"encoding":{
"x":{"field":"x","type":"quantitative"},"x2":{"field":"x2"},"y":{"field":"y","type":"quantitative"},"y2":{"field":"y2"},
"fill":{"field":"b","type":"ordinal","scale":{"domain":[1,2,3,4,5,6,7,8,9,10],"range":["#ee1f26","#f5701f","#fde30c","#afd136","#72bf44","#6abd45","#71c492","#58c7ec","#3f6db4","#37509f"]},"legend":null}}},
{"data":{"name":"ticks"},"mark":{"type":"rule","stroke":"#000000","strokeWidth":2.6},"encoding":{
"x":{"field":"x","type":"quantitative"},"x2":{"field":"x2"},"y":{"field":"y","type":"quantitative"}}},
{"data":{"name":"labels"},"mark":{"type":"text","font":"DejaVu Sans","fontSize":46,"align":"left","baseline":"alphabetic","dy":13,"color":"#000000"},"encoding":{
"x":{"field":"x","type":"quantitative"},"y":{"field":"y","type":"quantitative"},"text":{"field":"t"}}},
{"data":{"name":"titles"},"mark":{"type":"text","font":"DejaVu Sans","fontSize":52,"align":"left","baseline":"alphabetic","color":"#000000"},"encoding":{
"x":{"field":"x","type":"quantitative"},"y":{"field":"y","type":"quantitative"},"text":{"field":"t"}}},
{"data":{"name":"captions"},"mark":{"type":"text","font":"Liberation Serif","fontSize":72,"align":"center","baseline":"alphabetic","color":"#000000"},"encoding":{
"x":{"field":"x","type":"quantitative"},"y":{"field":"y","type":"quantitative"},"text":{"field":"t"}}}
],
"resolve":{"scale":{"fill":"independent"}}}
